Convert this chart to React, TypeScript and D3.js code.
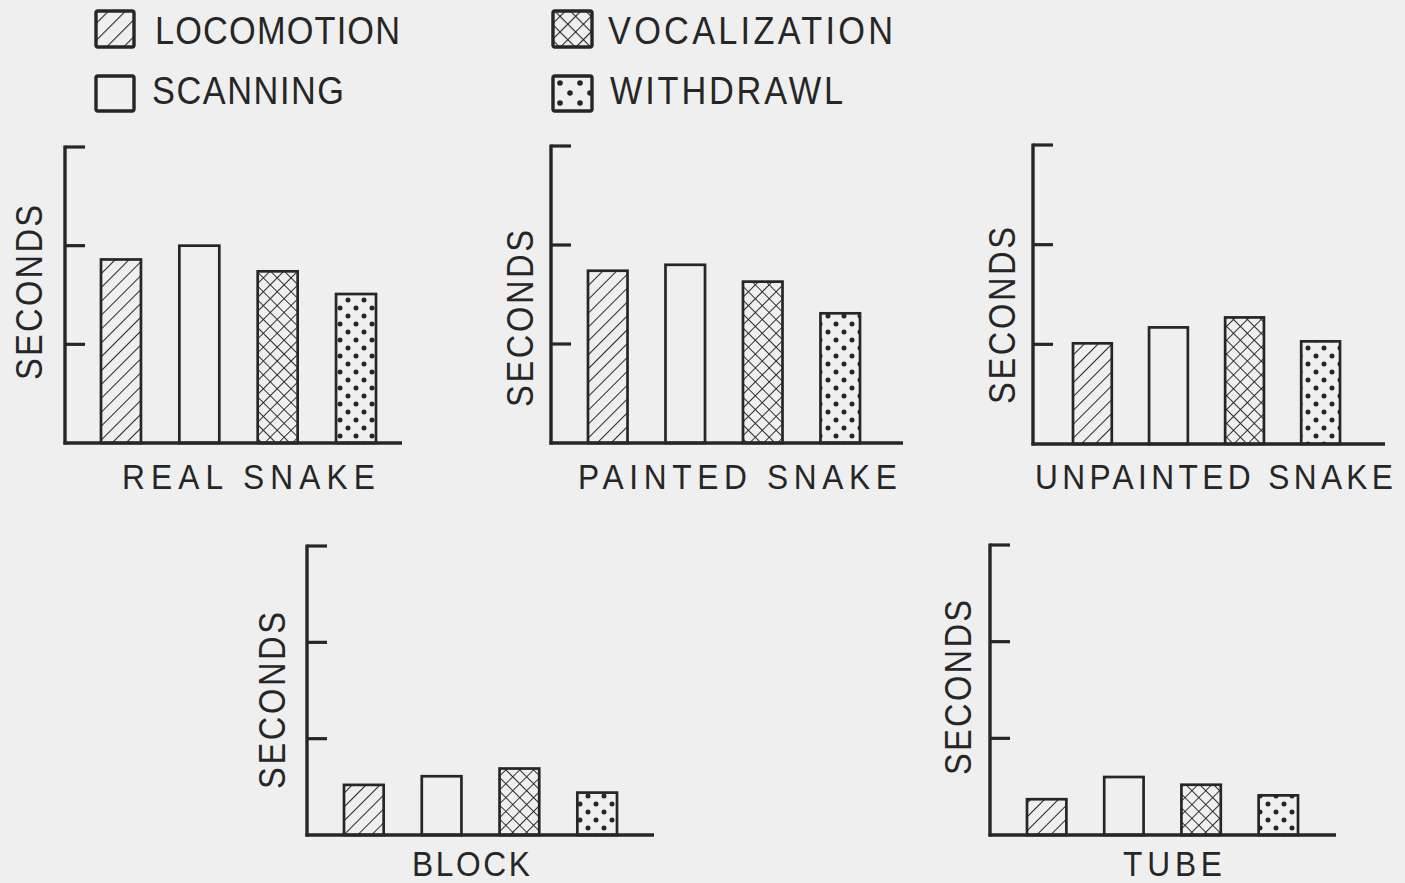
import React from "react";
import * as d3 from "d3";

// ---- data ----
const categories = ["LOCOMOTION", "SCANNING", "VOCALIZATION", "WITHDRAWL"];
const panelNames = ["REAL SNAKE", "PAINTED SNAKE", "UNPAINTED SNAKE", "BLOCK", "TUBE"];
const realSnake = [1.86, 2.0, 1.74, 1.51];
const paintedSnake = [1.74, 1.8, 1.63, 1.31];
const unpaintedSnake = [1.01, 1.17, 1.27, 1.03];
const block = [0.52, 0.61, 0.69, 0.44];
const tube = [0.37, 0.6, 0.52, 0.41];
const yTicks = [1, 2, 3];
const yLabel = "SECONDS";

const seriesValues = [realSnake, paintedSnake, unpaintedSnake, block, tube];

// ---- layout (pixels) ----
const W = 1405;
const H = 883;
const BG = "#efefef";
const INK = "#262626";
const FONT = "'Liberation Sans', Arial, sans-serif";
const SX = 0.88; // horizontal glyph narrowing

const layout = [
  { ax: 65, base: 443, top: 147, xEnd: 402, b0: 101, b1: 376, lx: 122, lb: 489, ll: 253, sx: 42, sy: 380, sl: 175 },
  { ax: 551, base: 443, top: 146, xEnd: 903, b0: 588, b1: 860, lx: 578, lb: 489, ll: 319, sx: 533, sy: 407, sl: 177 },
  { ax: 1033, base: 444, top: 145, xEnd: 1385, b0: 1073, b1: 1340, lx: 1035, lb: 489, ll: 358, sx: 1015, sy: 404, sl: 177 },
  { ax: 307, base: 835, top: 546, xEnd: 654, b0: 344, b1: 617, lx: 412, lb: 876, ll: 118, sx: 285, sy: 789, sl: 177 },
  { ax: 990, base: 835, top: 545, xEnd: 1336, b0: 1027, b1: 1298, lx: 1123, lb: 876, ll: 99, sx: 971, sy: 775, sl: 175 },
];

const fills = ["url(#hatch)", "none", "url(#cross)", "url(#dots)"];
const legendFills = ["url(#lhatch)", "none", "url(#lcross)", "url(#ldots)"];

const legendPos = [
  { rx: 96, ry: 11, rw: 38, rh: 36, tx: 155, tb: 44, tl: 245 },
  { rx: 96, ry: 76, rw: 38, rh: 35, tx: 152, tb: 104, tl: 192 },
  { rx: 553, ry: 11, rw: 39, rh: 36, tx: 608, tb: 44, tl: 285 },
  { rx: 553, ry: 76, rw: 39, rh: 35, tx: 610, tb: 104, tl: 233 },
];

function Label({ x, y, len, size, rotate, children }: any) {
  const t = rotate ? `translate(${x},${y}) rotate(-90) scale(${SX},1)` : `translate(${x},${y}) scale(${SX},1)`;
  return (
    <text
      transform={t}
      x={0}
      y={0}
      fontFamily={FONT}
      fontSize={size}
      fill={INK}
      textLength={len / SX}
      lengthAdjust="spacing"
    >
      {children}
    </text>
  );
}

function Panel({ idx }: { idx: number }) {
  const L = layout[idx];
  const values = seriesValues[idx];
  const y = d3.scaleLinear().domain([0, 3]).range([L.base, L.top]);
  const x = d3
    .scaleBand<string>()
    .domain(categories)
    .range([L.b0, L.b1])
    .paddingInner(0.49)
    .paddingOuter(0);
  const tickLen = 20;
  return (
    <g>
      {categories.map((c, i) => (
        <rect
          key={c}
          x={x(c)}
          y={y(values[i])}
          width={x.bandwidth()}
          height={y(0) - y(values[i])}
          fill={fills[i]}
          stroke={INK}
          strokeWidth={2.7}
        />
      ))}
      <line x1={L.ax} x2={L.ax} y1={y(3) - 1.5} y2={y(0) + 1.5} stroke={INK} strokeWidth={3.4} />
      {yTicks.map((t) => (
        <line key={t} x1={L.ax} x2={L.ax + tickLen} y1={y(t)} y2={y(t)} stroke={INK} strokeWidth={3.2} />
      ))}
      <line x1={L.ax - 1.5} x2={L.xEnd} y1={y(0)} y2={y(0)} stroke={INK} strokeWidth={3.4} />
      <Label x={L.lx} y={L.lb} len={L.ll} size={36}>
        {panelNames[idx]}
      </Label>
      <Label x={L.sx} y={L.sy} len={L.sl} size={37} rotate>
        {yLabel}
      </Label>
    </g>
  );
}

export default function App() {
  return (
    <div style={{ position: "fixed", left: 0, top: 0, width: W, height: H, background: BG }}>
      <svg width={W} height={H} viewBox={`0 0 ${W} ${H}`} style={{ display: "block" }}>
        <defs>
          <pattern id="hatch" patternUnits="userSpaceOnUse" width={9.8} height={9.8} patternTransform="rotate(45)">
            <line x1={0} y1={-2} x2={0} y2={12} stroke={INK} strokeWidth={2} />
          </pattern>
          <pattern id="cross" patternUnits="userSpaceOnUse" width={9.8} height={9.8} patternTransform="rotate(45)">
            <line x1={0} y1={-2} x2={0} y2={12} stroke={INK} strokeWidth={1.9} />
            <line x1={-2} y1={0} x2={12} y2={0} stroke={INK} strokeWidth={1.9} />
          </pattern>
          <pattern id="dots" patternUnits="userSpaceOnUse" width={16} height={16}>
            <circle cx={4} cy={4} r={2.5} fill={INK} />
            <circle cx={12} cy={12} r={2.5} fill={INK} />
          </pattern>
          <pattern id="lhatch" patternUnits="userSpaceOnUse" width={12} height={12} patternTransform="rotate(45)">
            <line x1={0} y1={-2} x2={0} y2={14} stroke={INK} strokeWidth={2.3} />
          </pattern>
          <pattern id="lcross" patternUnits="userSpaceOnUse" width={11} height={11} patternTransform="rotate(45)">
            <line x1={0} y1={-2} x2={0} y2={13} stroke={INK} strokeWidth={2.2} />
            <line x1={-2} y1={0} x2={13} y2={0} stroke={INK} strokeWidth={2.2} />
          </pattern>
          <pattern id="ldots" patternUnits="userSpaceOnUse" width={20} height={20} x={555} y={78}>
            <circle cx={5} cy={5} r={2.8} fill={INK} />
            <circle cx={15} cy={15} r={2.8} fill={INK} />
          </pattern>
        </defs>
        <rect x={0} y={0} width={W} height={H} fill={BG} />
        {categories.map((c, i) => {
          const p = legendPos[i];
          return (
            <g key={c}>
              <rect x={p.rx} y={p.ry} width={p.rw} height={p.rh} rx={2} fill={legendFills[i]} stroke={INK} strokeWidth={3.4} />
              <Label x={p.tx} y={p.tb} len={p.tl} size={39}>
                {c}
              </Label>
            </g>
          );
        })}
        {panelNames.map((n, i) => (
          <Panel key={n} idx={i} />
        ))}
      </svg>
    </div>
  );
}
